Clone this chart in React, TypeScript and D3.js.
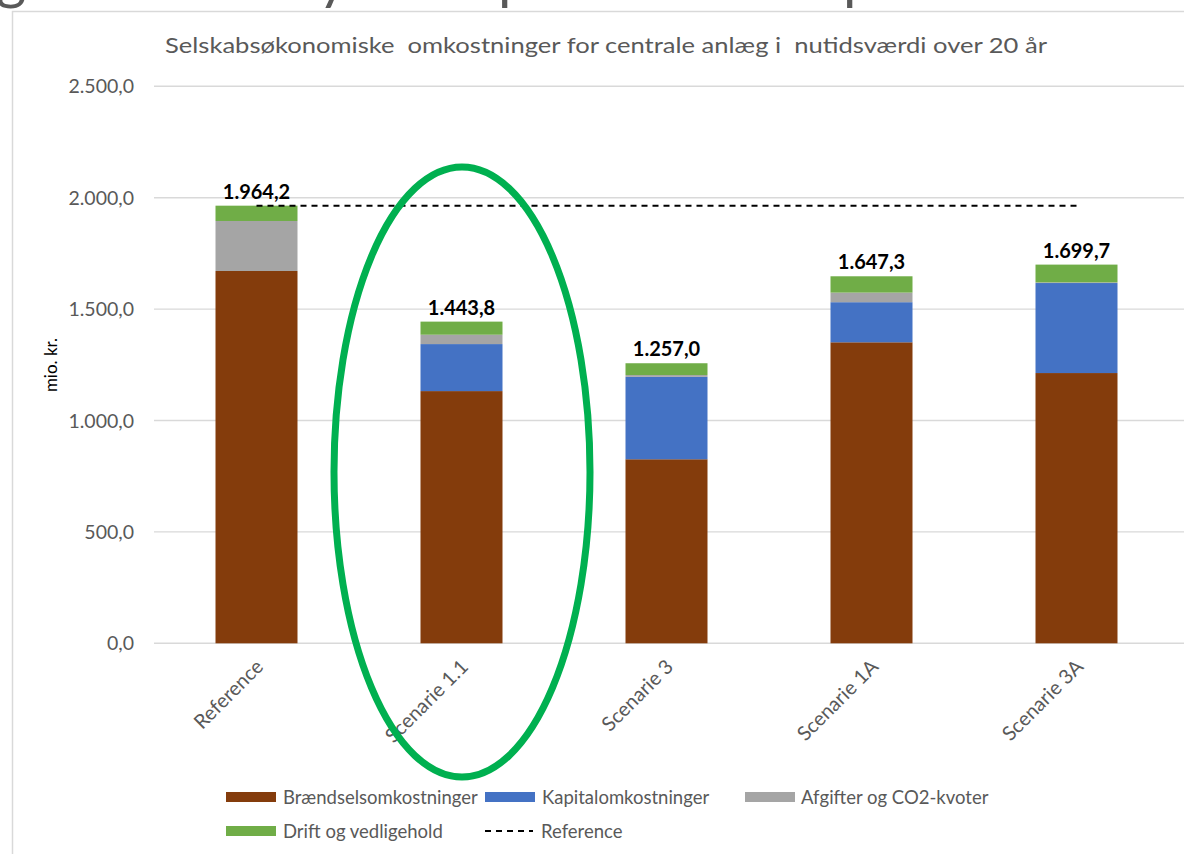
import React from "react";
import * as d3 from "d3";

const categories = ["Reference", "Scenarie 1.1", "Scenarie 3", "Scenarie 1A", "Scenarie 3A"];
const braendsel = [1671, 1132, 826, 1351, 1213];
const kapital = [0, 211, 370, 180, 404];
const afgifter = [224.5, 42, 8, 43, 3];
const drift = [68.7, 58.8, 53, 73.3, 79.7];
const totals = [1964.2, 1443.8, 1257.0, 1647.3, 1699.7];
const referenceValue = 1964.2;
const yTicks = [0, 500, 1000, 1500, 2000, 2500];
const seriesNames = ["Brændselsomkostninger", "Kapitalomkostninger", "Afgifter og CO2-kvoter", "Drift og vedligehold"];
const seriesColors = ["#843C0C", "#4472C4", "#A5A5A5", "#70AD47"];
const title = "Selskabsøkonomiske  omkostninger for centrale anlæg i  nutidsværdi over 20 år";
const yAxisTitle = "mio. kr.";
const refLegend = "Reference";

const W = 1184;
const H = 854;
const FONT = "Lato, 'Open Sans', sans-serif";

const locale = d3.formatLocale({ decimal: ",", thousands: ".", grouping: [3], currency: ["", ""] });
const fmt = locale.format(",.1f");

export default function App() {
  const x = d3.scaleBand<string>().domain(categories).range([154, 1179]).padding(0);
  const barW = x.bandwidth() * 0.4;
  const y = d3.scaleLinear().domain([0, 2500]).range([643.3, 86.3]);

  const rows = categories.map((c, i) => ({
    cat: c,
    s0: braendsel[i],
    s1: kapital[i],
    s2: afgifter[i],
    s3: drift[i],
  }));
  const keys = ["s0", "s1", "s2", "s3"];
  const stacked = d3.stack<any>().keys(keys)(rows);

  const cx = (c: string) => (x(c) as number) + x.bandwidth() / 2;
  const gray = "#595959";

  const legendRow1 = [
    { i: 0, sx: 226, tx: 283, w: 192 },
    { i: 1, sx: 485, tx: 542, w: 166 },
    { i: 2, sx: 745, tx: 801, w: 194 },
  ];

  return (
    <svg
      width={W}
      height={H}
      style={{ position: "absolute", left: 0, top: 0, background: "#fff" }}
      fontFamily={FONT}
    >
      <rect x={0} y={0} width={W} height={H} fill="#fff" />
      {/* cut-off heading descenders above the chart */}
      <g fill={gray} fontSize={58} fontFamily={FONT}>
        <text x={-4} y={-2}>g</text>
        <text x={318} y={-2}>y</text>
        <text x={498} y={-2}>p</text>
        <text x={843} y={-2}>p</text>
      </g>
      {/* chart frame */}
      <path d={`M12.5,${H + 2} V11.5 H${W + 2}`} fill="none" stroke="#D9D9D9" strokeWidth={1.5} />

      {/* title */}
      <text
        x={165}
        y={53}
        fontSize={22}
        fill={gray}
        textLength={882}
        lengthAdjust="spacingAndGlyphs"
        style={{ whiteSpace: "pre" }}
      >
        {title}
      </text>

      {/* gridlines */}
      {yTicks.map((t) => (
        <line key={t} x1={154} x2={W} y1={y(t)} y2={y(t)} stroke="#D9D9D9" strokeWidth={1.4} />
      ))}
      {/* y tick labels */}
      {yTicks.map((t) => (
        <text key={"l" + t} x={134} y={y(t)} dy="0.36em" textAnchor="end" fontSize={19.5} fill={gray}>
          {fmt(t)}
        </text>
      ))}
      <text
        transform={`translate(57, 365) rotate(-90)`}
        textAnchor="middle"
        fontSize={17}
        fill="#000"
      >
        {yAxisTitle}
      </text>

      {/* bars */}
      {stacked.map((layer, li) => (
        <g key={li} fill={seriesColors[li]}>
          {layer.map((d, i) => {
            const h = y(d[0]) - y(d[1]);
            if (h <= 0) return null;
            return (
              <rect key={i} x={cx(categories[i]) - barW / 2} y={y(d[1])} width={barW} height={h} />
            );
          })}
        </g>
      ))}

      {/* reference dashed line */}
      <line
        x1={cx(categories[0])}
        x2={cx(categories[categories.length - 1])}
        y1={y(referenceValue)}
        y2={y(referenceValue)}
        stroke="#000"
        strokeWidth={2}
        strokeDasharray="6,5"
      />

      {/* total labels */}
      {totals.map((t, i) => (
        <text
          key={i}
          x={cx(categories[i])}
          y={y(t) - 7}
          textAnchor="middle"
          fontSize={20}
          fontWeight="bold"
          fill="#000"
        >
          {fmt(t)}
        </text>
      ))}

      {/* x labels */}
      {categories.map((c) => (
        <text
          key={c}
          transform={`translate(${cx(c) + 8}, 668) rotate(-45)`}
          textAnchor="end"
          fontSize={20}
          fill={gray}
        >
          {c}
        </text>
      ))}

      {/* highlight ellipse */}
      <ellipse cx={462} cy={472} rx={128} ry={305} fill="none" stroke="#00B050" strokeWidth={7} />

      {/* legend */}
      {legendRow1.map((l) => (
        <g key={l.i}>
          <rect x={l.sx} y={792} width={50} height={10} fill={seriesColors[l.i]} />
          <text x={l.tx} y={804} fontSize={18.5} fill={gray}>
            {seriesNames[l.i]}
          </text>
        </g>
      ))}
      <rect x={226} y={826} width={50} height={10} fill={seriesColors[3]} />
      <text x={283} y={838} fontSize={18.5} fill={gray}>
        {seriesNames[3]}
      </text>
      <line x1={485} x2={533} y1={831} y2={831} stroke="#000" strokeWidth={2} strokeDasharray="6,5" />
      <text x={541} y={838} fontSize={18.5} fill={gray}>
        {refLegend}
      </text>
    </svg>
  );
}
